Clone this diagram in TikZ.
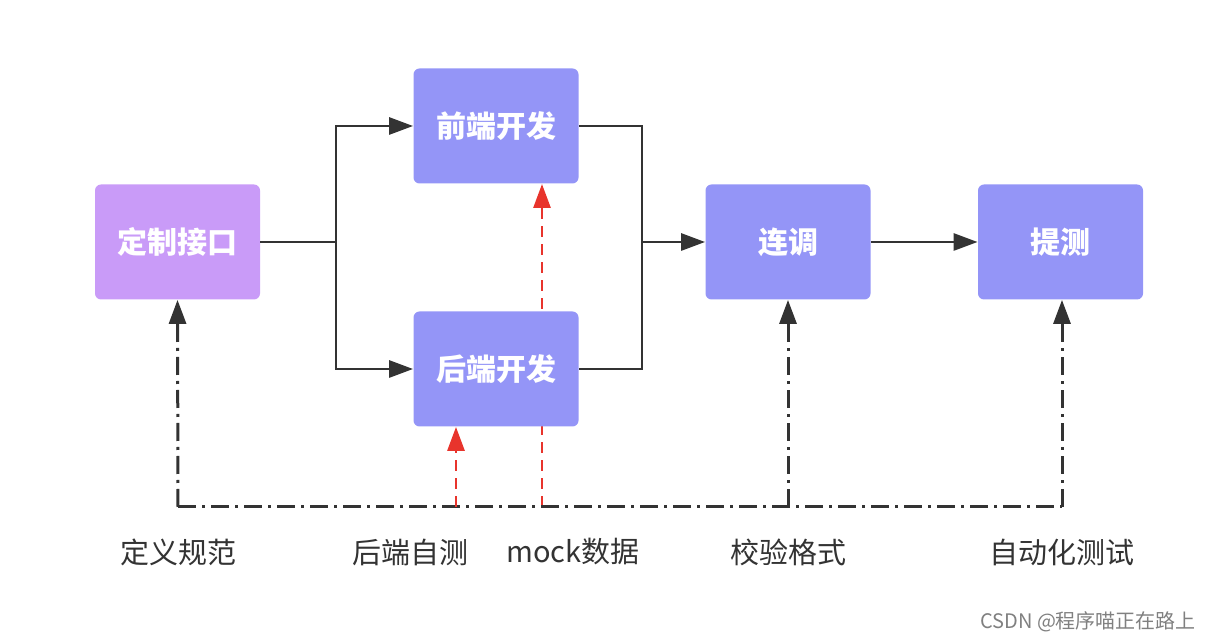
\documentclass[tikz,border=0pt]{standalone}
\usepackage{fontspec}
\newfontfamily\cjk{Noto Sans CJK SC}
\usetikzlibrary{arrows.meta,positioning}
\definecolor{boxpurple}{HTML}{C99BF8}
\definecolor{boxblue}{HTML}{9495F7}
\definecolor{linegray}{HTML}{333333}
\definecolor{mockred}{HTML}{E8342C}
\tikzset{
  stage/.style={rectangle, rounded corners=3pt, fill=boxblue, text=white,
    font=\cjk\bfseries\fontsize{15pt}{18pt}\selectfont,
    minimum width=82.5pt, minimum height=57.5pt},
  tag/.style={text=linegray, font=\cjk\fontsize{14.5pt}{18pt}\selectfont},
  flow/.style={draw=linegray, line width=1.4pt, -{Triangle[length=12pt,width=8.5pt]}},
  check/.style={draw=linegray, line width=1.5pt, dash pattern=on 9pt off 3pt on 1.5pt off 3pt},
  mock/.style={draw=mockred, line width=1.4pt, dash pattern=on 5.5pt off 3.5pt}
}
\begin{document}
\begin{tikzpicture}[x=0.5pt, y=-0.5pt]
  \useasboundingbox (0,0) rectangle (1217,641);
  % base points on the check line
  \coordinate (gf) at (178,507);
  \coordinate (hz) at (456,507);
  \coordinate (mk) at (542,507);
  \coordinate (jy) at (788,507);
  \coordinate (zd) at (1062,507);
  % mock data line runs behind the backend box
  \draw[mock, -{Triangle[length=12pt,width=8.5pt]}] (mk) -- (542,184);

  \node[stage, fill=boxpurple] (dz) at (177.5,242) {定制接口};
  \node[stage] (qd) at (496,126) {前端开发};
  \node[stage] (hd) at (496,369) {后端开发};
  \node[stage] (lt) at (788,242) {连调};
  \node[stage] (tc) at (1060.5,242) {提测};

  \coordinate (fk) at (336,242);
  \coordinate (hb) at (642,242);
  \draw[draw=linegray, line width=1.4pt] (dz.east) -- (fk);
  \draw[flow] (fk) |- (qd.west);
  \draw[flow] (fk) |- (hd.west);
  \draw[draw=linegray, line width=1.4pt] (qd.east) -| (hb) |- (hd.east);
  \draw[flow] (hb) -- (lt.west);
  \draw[flow] (lt) -- (tc);

  \draw[check] (gf) -- (zd);
  \draw[check, -{Triangle[length=12pt,width=8.5pt]}] (gf) -- (dz.south);
  \draw[check, -{Triangle[length=12pt,width=8.5pt]}] (jy) -- (lt.south);
  \draw[check, -{Triangle[length=12pt,width=8.5pt]}] (zd) -- (zd |- tc.south);
  \draw[mock, -{Triangle[length=12pt,width=8.5pt]}] (hz) -- (hz |- hd.south);

  \node[tag] (gfl) at (178,552) {定义规范};
  \node[tag] (hzl) at (410,552) {后端自测};
  \node[tag] (mkl) at (573,552) {mock数据};
  \node[tag] (jyl) at (788,552) {校验格式};
  \node[tag] (zdl) at (1062,552) {自动化测试};
  \node[text=gray, font=\cjk\fontsize{10pt}{12pt}\selectfont, anchor=east] (wm) at (1203,622) {CSDN @程序喵正在路上};
\end{tikzpicture}
\end{document}
